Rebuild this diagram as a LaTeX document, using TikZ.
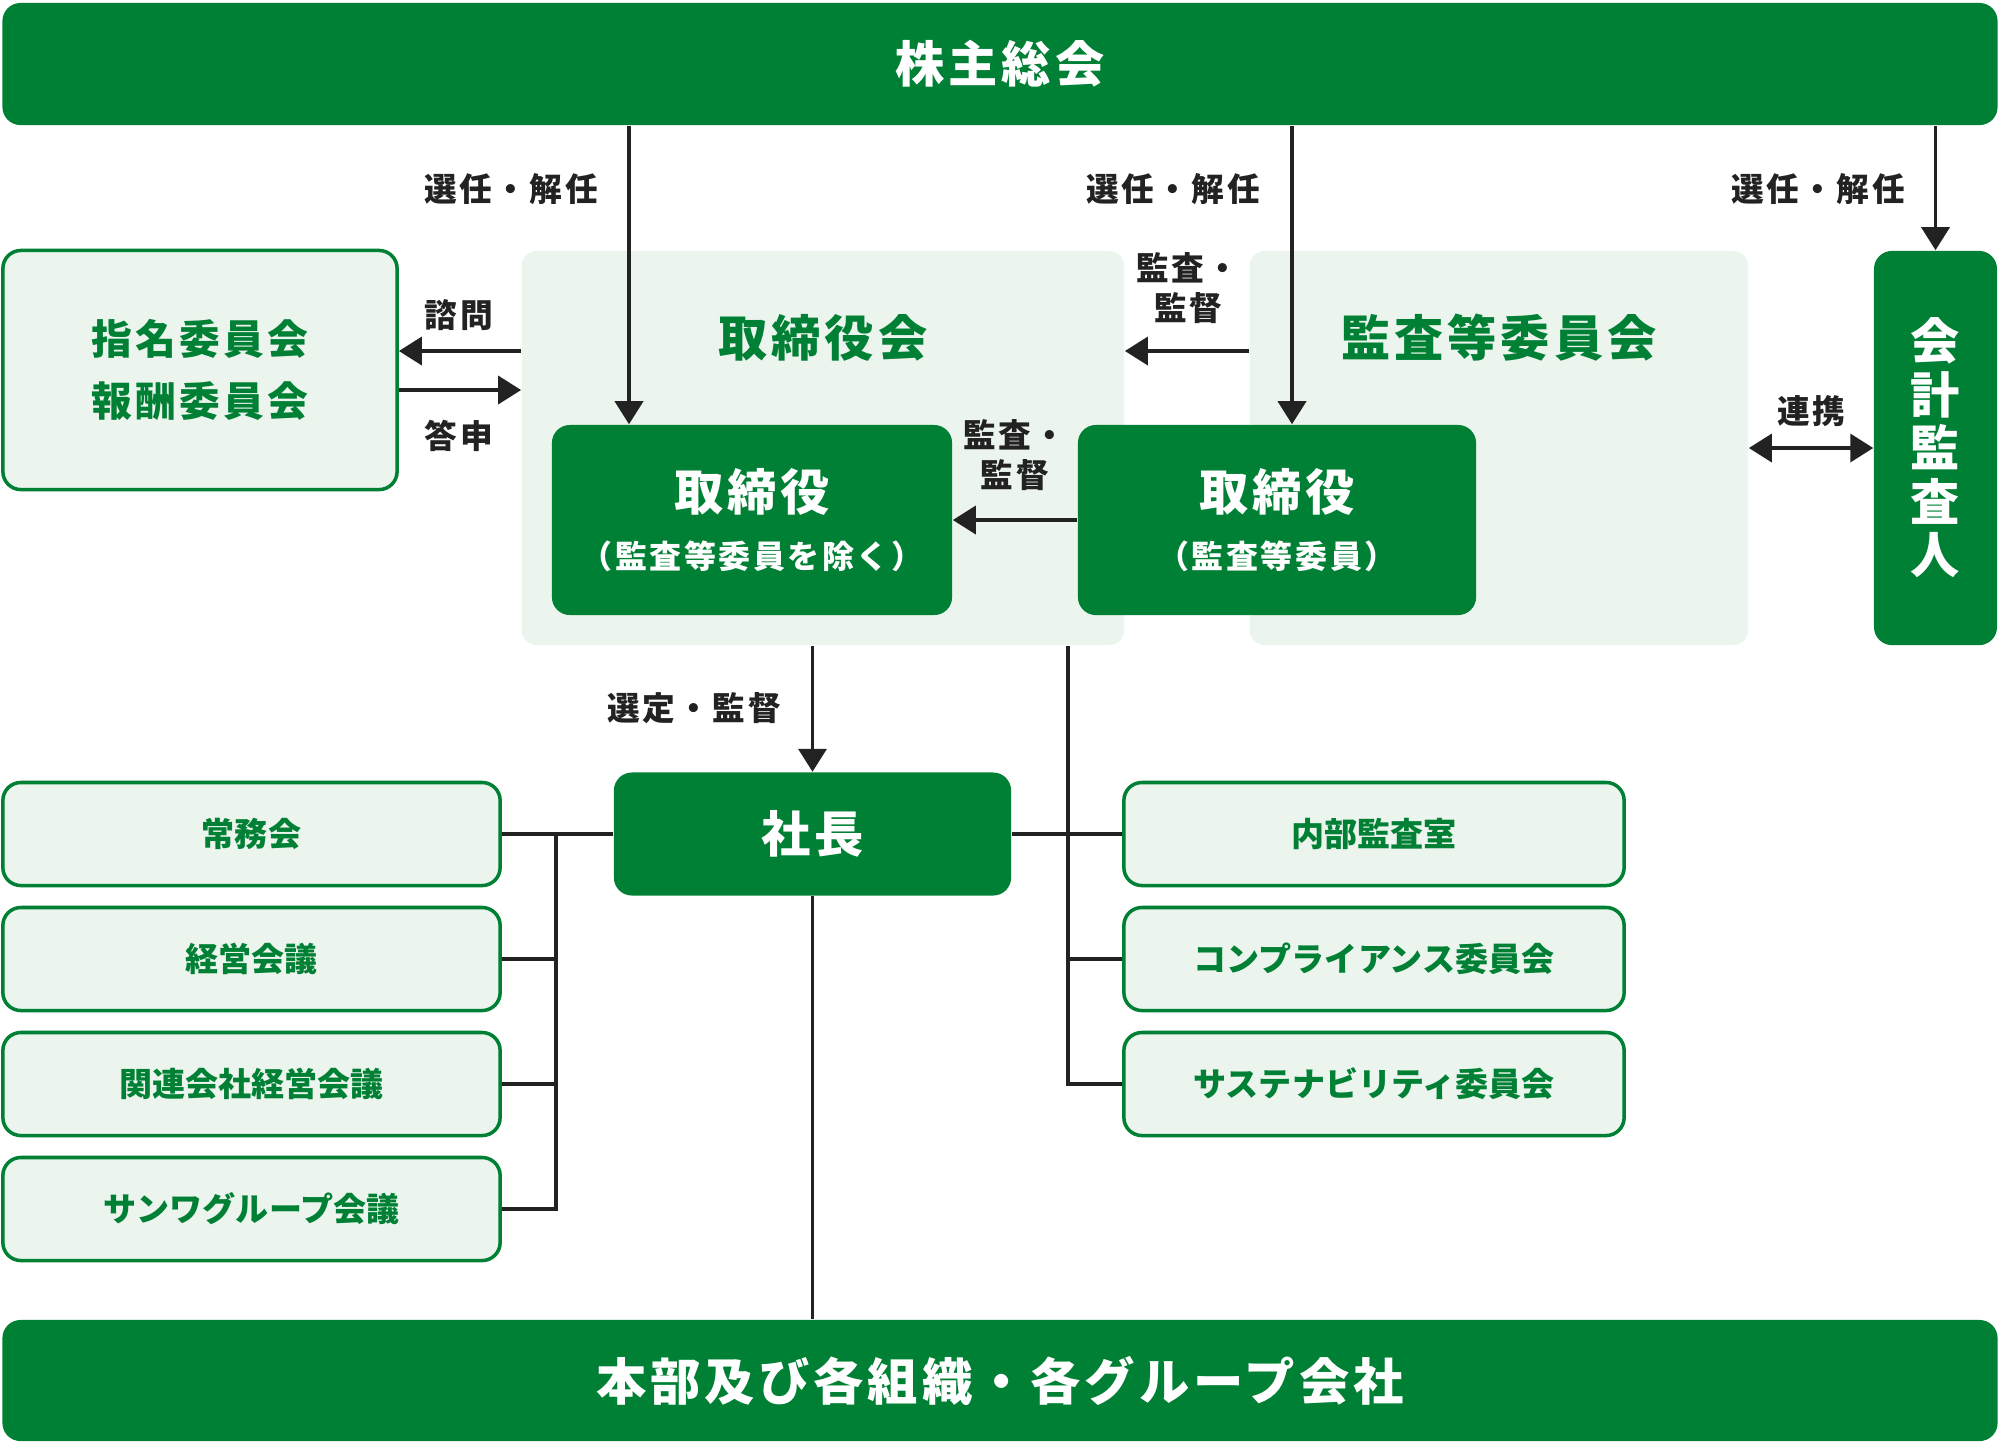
\documentclass[tikz,border=0pt]{standalone}
\usepackage{fontspec}
\setmainfont{Noto Sans CJK JP}
\newfontfamily\widejp{Noto Sans CJK JP}[LetterSpace=8]
\usetikzlibrary{arrows.meta}
\definecolor{corpgreen}{RGB}{0,128,52}
\definecolor{paleg}{RGB}{235,244,237}
\definecolor{ink}{RGB}{34,34,34}

\begin{document}
\begin{tikzpicture}[x=0.01cm, y=-0.01cm, >={Triangle[length=0.23cm, width=0.28cm]}]
\useasboundingbox (0,0) rectangle (2000,1444);

% Define the node styles
\tikzstyle{dark} = [fill=corpgreen, text=white, rounded corners=0.18cm, inner sep=0pt, font=\widejp\bfseries\fontsize{14}{16.5}\selectfont]
\tikzstyle{pale} = [draw=corpgreen, fill=paleg, line width=1pt, rounded corners=0.18cm, text=corpgreen, inner sep=0pt, font=\bfseries\fontsize{9.4}{11}\selectfont]
\tikzstyle{panel} = [fill=paleg, rounded corners=0.15cm, inner sep=0pt]
\tikzstyle{paneltitle} = [text=corpgreen, font=\widejp\bfseries\fontsize{14}{16}\selectfont]
\tikzstyle{lbl} = [text=ink, font=\widejp\bfseries\fontsize{9.3}{11.6}\selectfont, align=center, inner sep=0pt]
\tikzstyle{line} = [draw=ink, line width=1.05pt]

% Define the nodes
\node[dark, minimum width=19.94cm, minimum height=1.22cm] (gm) at (1000,64) {株主総会};
\node[pale, minimum width=3.94cm, minimum height=2.39cm, align=center, font=\widejp\bfseries\fontsize{11.6}{17.8}\selectfont] (nomi) at (200,370) {指名委員会\\報酬委員会};

\node[panel, minimum width=6.02cm, minimum height=3.94cm] (board) at (823,448) {};
\node[paneltitle] (boardT) at (823,338) {取締役会};
\node[panel, minimum width=4.98cm, minimum height=3.94cm] (audit) at (1499,448) {};
\node[paneltitle] (auditT) at (1499,338) {監査等委員会};

\node[dark, minimum width=4.00cm, minimum height=1.90cm, align=center] (dirA) at (752,520) {取締役\\{\fontsize{9.1}{16.5}\selectfont （監査等委員を除く）}};
\node[dark, minimum width=3.98cm, minimum height=1.90cm, align=center] (dirB) at (1277,520) {取締役\\{\fontsize{9.1}{16.5}\selectfont （監査等委員）}};
\node[dark, minimum width=1.23cm, minimum height=3.94cm, align=center, font=\bfseries\fontsize{14}{15.2}\selectfont] (cpa) at (1935.5,448) {会\\計\\監\\査\\人};

\node[dark, minimum width=3.97cm, minimum height=1.23cm] (pres) at (812.5,834) {社長};

\node[pale, minimum width=4.97cm, minimum height=1.03cm] (jomu) at (251.5,834) {常務会};
\node[pale, minimum width=4.97cm, minimum height=1.03cm] (keiei) at (251.5,959) {経営会議};
\node[pale, minimum width=4.97cm, minimum height=1.03cm] (kanren) at (251.5,1084) {関連会社経営会議};
\node[pale, minimum width=4.97cm, minimum height=1.03cm] (sanwa) at (251.5,1209) {サンワグループ会議};

\node[pale, minimum width=5.00cm, minimum height=1.03cm] (naibu) at (1374,834) {内部監査室};
\node[pale, minimum width=5.00cm, minimum height=1.03cm] (comp) at (1374,959) {コンプライアンス委員会};
\node[pale, minimum width=5.00cm, minimum height=1.03cm] (sust) at (1374,1084) {サステナビリティ委員会};

\node[dark, minimum width=19.94cm, minimum height=1.21cm, font=\widejp\bfseries\fontsize{14.3}{16.5}\selectfont] (units) at (1000,1380.5) {本部及び各組織・各グループ会社};

% Helper coordinates for the connectors
\coordinate (selA) at (629,0);
\coordinate (selB) at (1292,0);
\coordinate (askY) at (0,351);
\coordinate (ansY) at (0,390);
\coordinate (trunkL) at (556,0);
\coordinate (trunkR) at (1068,0);

% Define the transitions
\draw[line, ->] (gm.south -| selA) -- (dirA.north -| selA);
\draw[line, ->] (gm.south -| selB) -- (dirB.north -| selB);
\draw[line, ->] (gm.south -| cpa) -- (cpa.north);

\draw[line, ->] (board.west |- askY) -- (nomi.east |- askY);
\draw[line, ->] (nomi.east |- ansY) -- (board.west |- ansY);
\draw[line, ->] (audit.west |- askY) -- (board.east |- askY);
\draw[line, ->] (dirB.west) -- (dirA.east);
\draw[line, <->] (audit.east) -- (cpa.west);
\draw[line, ->] (board.south -| pres) -- (pres.north);

% Tree under the president
\draw[line] (pres.west) -- (jomu.east);
\draw[line] (jomu.east -| trunkL) -- (sanwa.east -| trunkL) -- (sanwa.east);
\draw[line] (keiei.east -| trunkL) -- (keiei.east);
\draw[line] (kanren.east -| trunkL) -- (kanren.east);

\draw[line] (pres.east) -- (naibu.west);
\draw[line] (board.south -| trunkR) -- (sust.west -| trunkR) -- (sust.west);
\draw[line] (comp.west -| trunkR) -- (comp.west);

\draw[line] (pres.south) -- (units.north -| pres);

% Labels on the transitions
\node[lbl] (selAL) at (511,189) {選任・解任};
\node[lbl] (selBL) at (1173,189) {選任・解任};
\node[lbl] (selCL) at (1818,189) {選任・解任};
\node[lbl] (askL) at (459,315) {諮問};
\node[lbl] (ansL) at (459,436) {答申};
\node[lbl] (supL) at (1188,288) {監査・\\監督};
\node[lbl] (supDL) at (1015,455) {監査・\\監督};
\node[lbl] (linkL) at (1811,411) {連携};
\node[lbl] (apptL) at (694,708) {選定・監督};

\end{tikzpicture}
\end{document}
